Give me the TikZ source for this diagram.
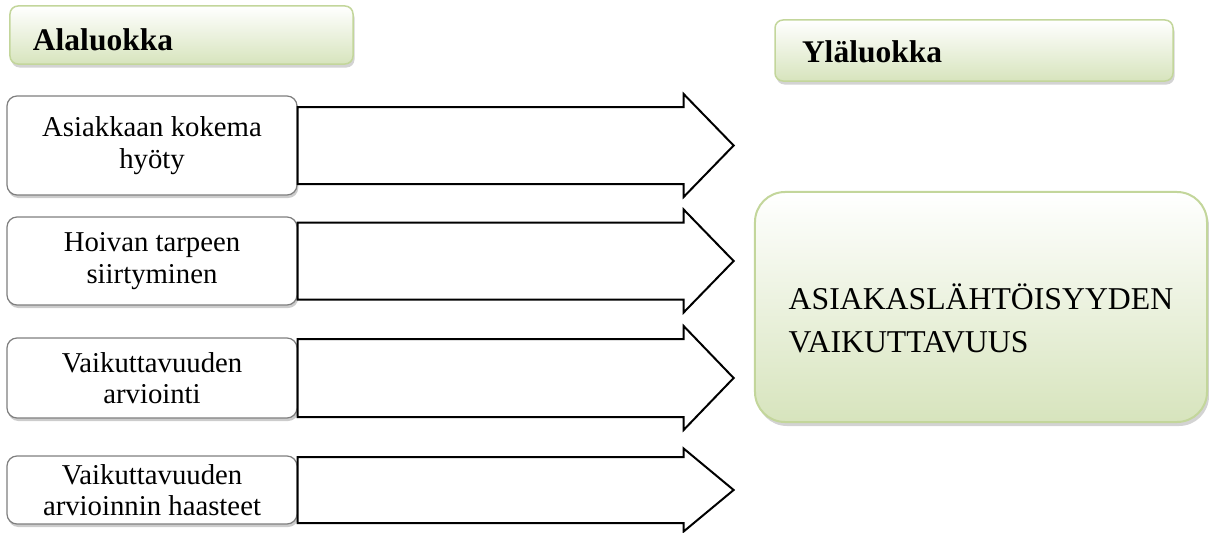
\documentclass[tikz,border=0pt]{standalone}
\usepackage{fontspec}
\setmainfont{Liberation Serif}
\usetikzlibrary{shadows}
\definecolor{vihrea}{HTML}{C3D69B}
\definecolor{vihreapohja}{HTML}{D7E4BD}
\definecolor{harmaa}{HTML}{7F7F7F}
\begin{document}
\begin{tikzpicture}
[x=0.4pt, y=-0.4pt,
 otsikko/.style={draw=vihrea, line width=0.6pt, rounded corners=3.2pt,
   top color=white, bottom color=vihreapohja, align=left,
   drop shadow={shadow xshift=0.6pt, shadow yshift=-1.4pt, opacity=0.35},
   font=\fontsize{12.6}{15}\selectfont\rmfamily\bfseries},
 laatikko/.style={draw=harmaa, fill=white, line width=0.5pt, rounded corners=4pt,
   minimum width=116pt, align=center, inner sep=0pt,
   drop shadow={shadow xshift=0.5pt, shadow yshift=-1.2pt, opacity=0.4},
   font=\fontsize{11.5}{12.6}\selectfont\rmfamily},
 nuoli/.style={draw=black, fill=white, line width=0.8pt, line join=miter}]
\useasboundingbox (0,0) rectangle (1209,533);
%% otsikot
\node[otsikko, text width=118.8pt, inner xsep=9.2pt, inner ysep=0pt,
  text height=12.2pt, text depth=0pt, minimum height=23.2pt]
  (alaluokka) at (181.5,35) {Alaluokka};
\node[otsikko, text width=137.6pt, inner xsep=10.8pt, inner ysep=0pt,
  text height=9.8pt, text depth=0pt, minimum height=24.4pt]
  (ylaluokka) at (974,50.5) {Yläluokka};
%% alaluokat
\node[laatikko, minimum height=39.6pt] (b1) at (152,145.5) {Asiakkaan kokema\\hyöty};
\node[laatikko, minimum height=35.2pt] (b2) at (152,261)   {Hoivan tarpeen\\siirtyminen};
\node[laatikko, minimum height=32pt]   (b3) at (152,378)   {Vaikuttavuuden\\arviointi};
\node[laatikko, minimum height=27.2pt] (b4) at (152,490)   {Vaikuttavuuden\\arvioinnin haasteet};
%% ylaluokka
\node[draw=vihrea, line width=0.8pt, rounded corners=12pt, top color=white,
  bottom color=vihreapohja, minimum width=180.8pt, minimum height=92pt,
  drop shadow={shadow xshift=0.8pt, shadow yshift=-1.6pt, opacity=0.35}]
  (yla) at (981,307) {};
\node[align=left, font=\fontsize{12.7}{17.2}\selectfont\rmfamily]
  (ylateksti) at ([yshift=-4.4pt]yla.center) {ASIAKASLÄHTÖISYYDEN\\VAIKUTTAVUUS};
%% nuolet
\draw[nuoli] (b1.east) ++(0,-38.5) -- ++(386,0) -- ++(0,-13) -- ++(50,51.5)
  -- ++(-50,51.5) -- ++(0,-13) -- ++(-386,0) -- cycle; %% nuoli 1
\draw[nuoli] (b2.east) ++(0,-38.5) -- ++(386,0) -- ++(0,-13) -- ++(50,51.5)
  -- ++(-50,51.5) -- ++(0,-13) -- ++(-386,0) -- cycle; %% nuoli 2
\draw[nuoli] (b3.east) ++(0,-39) -- ++(386,0) -- ++(0,-13) -- ++(50,52)
  -- ++(-50,52) -- ++(0,-13) -- ++(-386,0) -- cycle; %% nuoli 3
\draw[nuoli] (b4.east) ++(0,-33) -- ++(386,0) -- ++(0,-8.5) -- ++(50,41.5)
  -- ++(-50,41.5) -- ++(0,-8.5) -- ++(-386,0) -- cycle; %% nuoli 4
\end{tikzpicture}
\end{document}
